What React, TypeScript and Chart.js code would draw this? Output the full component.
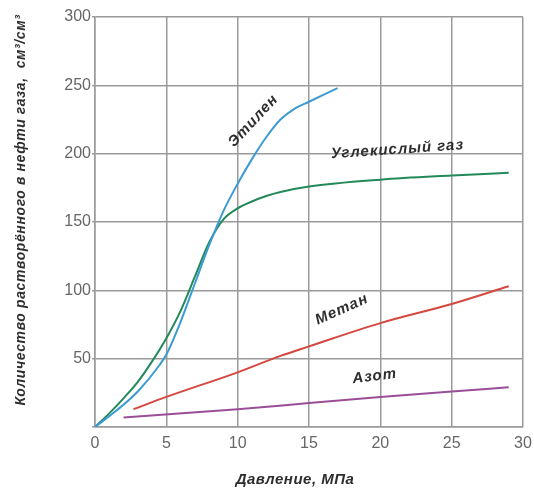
import React, { useEffect, useRef } from "react";
import { Chart, registerables } from "chart.js";

Chart.register(...registerables);

const FONT = "'Liberation Sans', Arial, sans-serif";

// Pressure, MPa (x) and dissolved gas amount (y)
const ethyleneX = [0, 1.5, 3, 4.5, 5, 6, 7, 8, 9, 10, 11, 12, 13, 14, 15, 16, 17];
const ethyleneY = [0, 12, 26, 45, 53, 77, 105, 133, 158, 178, 196, 212, 225, 233, 238, 243, 248];

const co2X = [0, 1, 2, 3, 4, 5, 6, 7, 8, 9, 10, 11, 12, 13, 15, 20, 25, 29];
const co2Y = [0, 10, 21, 33, 48, 65, 85, 110, 135, 152, 160, 165, 169, 172, 176, 181, 184, 186];

const methaneX = [2.7, 5, 10, 13, 15, 20, 25, 29];
const methaneY = [13, 22, 40, 52, 59, 76, 90, 103];

const nitrogenX = [2, 10, 15, 20, 25, 29];
const nitrogenY = [7, 13, 17.5, 22, 26, 29];

const seriesNames = ["Этилен", "Углекислый газ", "Метан", "Азот"];
const seriesColors = ["#3d9bd4", "#23895a", "#d5473f", "#9a4e98"];

// curve labels: text, anchor in data units, rotation (deg)
const labelTexts = ["Этилен", "Углекислый газ", "Метан", "Азот"];
const labelX = [11.1, 21.2, 17.3, 19.6];
const labelY = [224, 203, 86, 37];
const labelAngle = [-47, -4, -24, -7];

const xTitle = "Давление, МПа";
const yTitle = "Количество растворённого в нефти газа,  см³/см³";

const toPoints = (xs: number[], ys: number[]) => xs.map((x, i) => ({ x, y: ys[i] }));

const labelPlugin = {
  id: "curveLabels",
  afterDraw(chart: any) {
    const ctx = chart.ctx;
    const xs = chart.scales.x;
    const ys = chart.scales.y;
    ctx.save();
    ctx.fillStyle = "#2e2e2e";
    ctx.textAlign = "center";
    ctx.textBaseline = "middle";
    ctx.font = `italic bold 15px ${FONT}`;
    (ctx as any).letterSpacing = "1px";
    labelTexts.forEach((t, i) => {
      const px = xs.getPixelForValue(labelX[i]);
      const py = ys.getPixelForValue(labelY[i]);
      ctx.save();
      ctx.translate(px, py);
      ctx.rotate((labelAngle[i] * Math.PI) / 180);
      ctx.fillText(t, 0, 0);
      ctx.restore();
    });
    // axis titles
    const area = chart.chartArea;
    ctx.font = `italic bold 15px ${FONT}`;
    (ctx as any).letterSpacing = "0.5px";
    ctx.fillText(xTitle, (area.left + area.right) / 2 - 14, 480);
    ctx.save();
    ctx.translate(21, 210);
    ctx.rotate(-Math.PI / 2);
    ctx.font = `italic bold 14px ${FONT}`;
    (ctx as any).letterSpacing = "0.6px";
    ctx.fillText(yTitle, 0, 0);
    ctx.restore();
    ctx.restore();
  },
};

export default function App() {
  const ref = useRef<HTMLCanvasElement | null>(null);

  useEffect(() => {
    if (!ref.current) return;
    const datasets = [
      toPoints(ethyleneX, ethyleneY),
      toPoints(co2X, co2Y),
      toPoints(methaneX, methaneY),
      toPoints(nitrogenX, nitrogenY),
    ].map((data, i) => ({
      label: seriesNames[i],
      data,
      borderColor: seriesColors[i],
      backgroundColor: seriesColors[i],
      borderWidth: 2,
      pointRadius: 0,
      tension: 0.4,
      cubicInterpolationMode: "monotone" as const,
      fill: false,
    }));

    const chart = new Chart(ref.current, {
      type: "line",
      data: { datasets },
      options: {
        animation: false,
        responsive: false,
        layout: { padding: { top: 17, right: 11, left: 0, bottom: 0 } },
        plugins: { legend: { display: false }, tooltip: { enabled: false } },
        scales: {
          x: {
            type: "linear",
            min: 0,
            max: 30,
            ticks: {
              stepSize: 5,
              color: "#666",
              font: { family: FONT, size: 16 },
              padding: 7,
              maxRotation: 0,
            },
            grid: { color: "#9a9a9a", lineWidth: 1.5, drawTicks: false },
            border: { color: "#9a9a9a", width: 1.5 },
            afterFit: (s: any) => {
              s.height = 66;
              s.paddingRight = 0;
              s.paddingLeft = 0;
            },
          },
          y: {
            type: "linear",
            min: 0,
            max: 300,
            ticks: {
              stepSize: 50,
              color: "#666",
              font: { family: FONT, size: 16 },
              padding: 1,
              callback: (v: any) => (v === 0 ? "" : String(v)),
            },
            grid: { color: "#9a9a9a", lineWidth: 1.5, tickLength: 3 },
            border: { color: "#9a9a9a", width: 1.5 },
            afterFit: (s: any) => {
              s.width = 95;
              s.paddingTop = 0;
              s.paddingBottom = 0;
            },
          },
        },
      },
      plugins: [labelPlugin],
    });
    return () => chart.destroy();
  }, []);

  return (
    <div style={{ position: "absolute", left: 0, top: 0, width: 534, height: 493, background: "#fff" }}>
      <canvas ref={ref} width={534} height={493} />
    </div>
  );
}
